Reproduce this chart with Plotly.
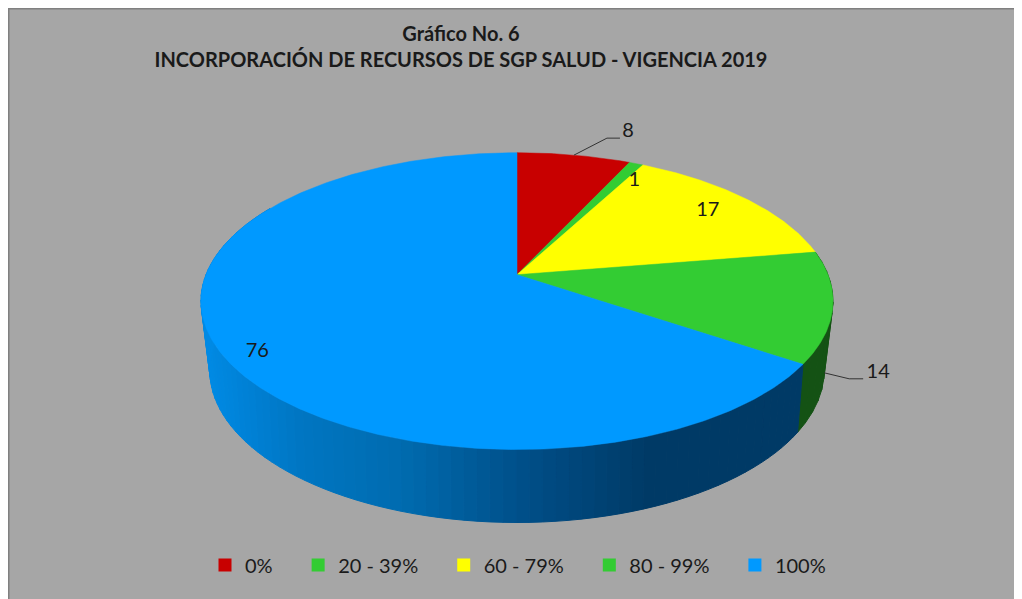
import numpy as np
import plotly.graph_objects as go

categories = ["0%", "20 - 39%", "60 - 79%", "80 - 99%", "100%"]
values = [8, 1, 17, 14, 76]
slice_colors = ["#C80000", "#33CC33", "#FFFF00", "#33CC33", "#0099FF"]
wall_green = "#145214"
title_line_1 = "Gráfico No. 6"
title_line_2 = "INCORPORACIÓN DE RECURSOS DE SGP SALUD - VIGENCIA 2019"

BG = "#A6A6A6"
INK = "#1A1A1A"
FONT = "Lato"
X0, X1 = 8, 1038
Y0, Y1 = 8, 617
CX = 517.0
TOP = dict(a=311.0, b=143.7, c=274.7, k=-0.178)
BOTTOM = dict(a=301.0, b=146.0, c=340.0, k=-0.200)
# label offset from the slice's rim point, in pixels; which disc the rim point is on
LABEL_OFFSET = [(54, -23), (-2, 17), (-38, 12), (54, 0), (40, 4)]
LABEL_DISC = [TOP, TOP, TOP, BOTTOM, TOP]
LEADER = {0: [(33, -17), (46, -17)], 3: [(25, 6), (39, 6)]}
LEGEND_PAD = "\u00a0" * 4


def project(deg, disc, r=1.0):
    t = np.radians(deg)
    u, v = r * np.sin(t), -r * np.cos(t)
    d = 1 + disc["k"] * v
    return CX + disc["a"] * u / d, disc["c"] + disc["b"] * v / d


def blue_wall(x):
    xs = [205, 300, 400, 530, 650, 810]
    rs = [0, 0, 0, 0, 0, 0]
    gs = [138, 118, 108, 78, 58, 58]
    bs = [228, 195, 176, 135, 102, 102]
    return "rgb(%d,%d,%d)" % (np.interp(x, xs, rs), np.interp(x, xs, gs), np.interp(x, xs, bs))


total = sum(values)
edges = np.cumsum([0] + values) / total * 360.0
fig = go.Figure()


def wall_strip(d0, d1, color):
    x0, y0 = project(d0, TOP)
    x1, y1 = project(d1, TOP)
    x2, y2 = project(d1, BOTTOM)
    x3, y3 = project(d0, BOTTOM)
    fig.add_trace(go.Scatter(
        x=[x0, x1, x2, x3, x0], y=[y0, y1, y2, y3, y0], mode="lines", fill="toself",
        fillcolor=color, line=dict(color=color, width=1), hoverinfo="skip", showlegend=False))


# side wall: green slice, then the shaded wall of the large slice
for d0 in np.arange(edges[3], edges[4], 4.0):
    wall_strip(d0, min(d0 + 4.0, edges[4]), wall_green)
for d0 in np.arange(edges[4], 300.0, 2.0):
    d1 = d0 + 2.0
    wall_strip(d0, d1, blue_wall(project((d0 + d1) / 2, TOP)[0]))

# top face
for i, cat in enumerate(categories):
    ang = np.linspace(edges[i], edges[i + 1], max(4, int(values[i] * 6)))
    px, py = project(ang, TOP)
    xs = [CX] + list(px) + [CX]
    ys = [TOP["c"]] + list(py) + [TOP["c"]]
    fig.add_trace(go.Scatter(
        x=xs, y=ys, mode="lines", fill="toself", fillcolor=slice_colors[i],
        line=dict(color=slice_colors[i], width=0.5), name=cat, text=f"{cat}: {values[i]}",
        hoverinfo="text", showlegend=False))

# leaders and labels
label_x, label_y = [], []
for i, v in enumerate(values):
    mid = (edges[i] + edges[i + 1]) / 2
    rx, ry = project(mid, LABEL_DISC[i])
    dx, dy = LABEL_OFFSET[i]
    label_x.append(rx + dx)
    label_y.append(ry + dy)
    if i in LEADER:
        lx = [rx] + [rx + o[0] for o in LEADER[i]]
        ly = [ry] + [ry + o[1] for o in LEADER[i]]
        fig.add_trace(go.Scatter(x=lx, y=ly, mode="lines", line=dict(color="#333333", width=1),
                                 hoverinfo="skip", showlegend=False))
fig.add_trace(go.Scatter(x=label_x, y=label_y, mode="text", text=[str(v) for v in values],
                         textposition="middle center", textfont=dict(family=FONT, size=20, color=INK),
                         hoverinfo="skip", showlegend=False))

# legend entries
for i, cat in enumerate(categories):
    fig.add_trace(go.Scatter(x=[None], y=[None], mode="markers", name=cat + LEGEND_PAD,
                             marker=dict(symbol="square", size=13, color=slice_colors[i])))

W, H = X1 - X0, Y1 - Y0
fig.update_layout(
    width=W, height=H, margin=dict(l=0, r=0, t=0, b=0),
    paper_bgcolor=BG, plot_bgcolor=BG,
    xaxis=dict(range=[X0, X1], visible=False, fixedrange=True),
    yaxis=dict(range=[Y1, Y0], visible=False, fixedrange=True),
    title=dict(text=title_line_1 + "<br>" + title_line_2,
               x=(461 - X0) / W, xanchor="center", y=1 - (41 - Y0) / H, yanchor="middle",
               font=dict(family=FONT, size=20, color=INK, weight="bold")),
    legend=dict(orientation="h", x=(205 - X0) / W, xanchor="left", y=(Y1 - 565) / H, yanchor="middle",
                font=dict(family=FONT, size=20, color=INK), bgcolor="rgba(0,0,0,0)", itemwidth=30),
    showlegend=True,
)
fig.add_shape(type="line", xref="paper", yref="paper", x0=0, x1=1, y0=1, y1=1, line=dict(color="#808080", width=3))
fig.add_shape(type="line", xref="paper", yref="paper", x0=0, x1=0, y0=0, y1=1, line=dict(color="#808080", width=3))
fig.write_html("out.html")
